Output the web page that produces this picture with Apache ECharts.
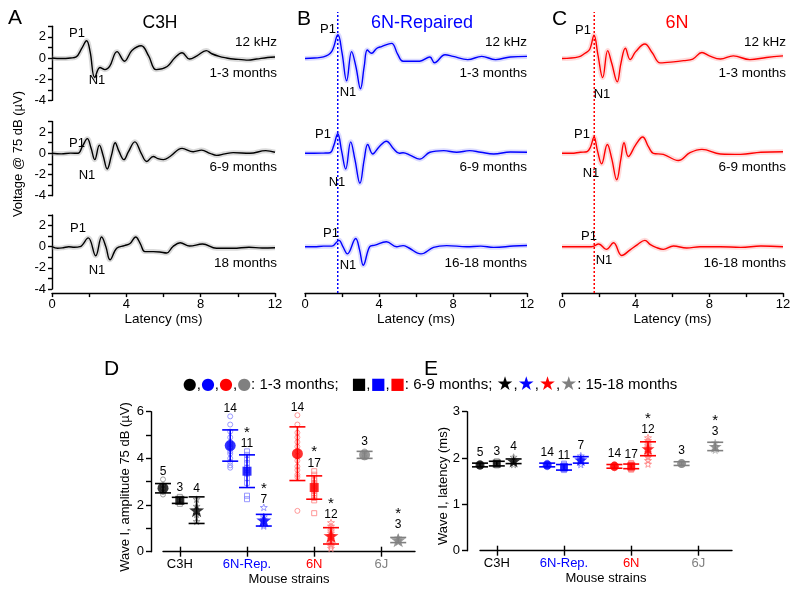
<!DOCTYPE html>
<html><head><meta charset="utf-8">
<script src="https://cdn.jsdelivr.net/npm/echarts@6/dist/echarts.min.js"></script>
<style>html,body{margin:0;padding:0;background:#fff}#c{width:800px;height:590px}</style>
</head><body><div id="c"></div>
<script>
// ================= DATA =================
// Waveforms [latency ms, voltage uV]
const c3h_1_3 = [[0,0],[0.5,-0.05],[1.0,0.0],[1.3,0.1],[1.6,0.9],[1.86,1.63],[2.05,0.6],[2.3,-1.85],[2.58,-0.9],[2.85,-1.1],[3.1,-0.8],[3.5,0.6],[3.9,-0.3],[4.3,0.7],[4.8,1.15],[5.2,0.2],[5.6,-1.1],[6.2,-0.8],[6.6,0.0],[7.0,0.5],[7.4,-0.1],[7.8,0.2],[8.3,0.7],[8.6,0.4],[9.0,0.15],[9.4,0.0],[9.75,-0.1],[10.2,-0.15],[10.55,-0.2],[11.0,-0.1],[11.6,0.05],[12,0.1]];
const c3h_6_9 = [[0,0],[0.5,-0.05],[1.0,0.02],[1.4,0.0],[1.65,0.7],[1.9,1.38],[2.1,0.5],[2.3,-0.6],[2.55,0.77],[2.75,-0.2],[2.97,-1.48],[3.2,-0.2],[3.4,1.0],[3.6,0.2],[3.87,-0.6],[4.1,0.1],[4.46,1.08],[4.8,0.0],[5.1,-0.77],[5.45,-0.3],[5.7,-0.5],[6.0,-0.6],[6.35,-0.3],[7.0,0.46],[7.6,0.15],[8.05,0.3],[8.5,0.0],[8.85,-0.2],[9.3,-0.05],[9.75,0.06],[10.65,0.0],[11.5,0.25],[12,0.1]];
const c3h_18 = [[0,0],[0.3,-0.15],[0.6,-0.1],[0.9,0.0],[1.2,-0.05],[1.5,0.0],[1.95,0.83],[2.35,-0.86],[2.67,0.92],[2.9,0.0],[3.12,-1.23],[3.48,-0.15],[3.9,0.1],[4.2,0.3],[4.5,0.92],[4.75,0.3],[5.0,-0.46],[5.45,-0.46],[5.8,-0.5],[6.17,-0.6],[6.5,0.0],[6.9,0.37],[7.4,0.06],[8.1,0.25],[8.85,-0.15],[9.75,-0.15],[10.6,-0.05],[11.3,-0.12],[12,-0.1]];
const rep_1_3 = [[0,-0.05],[0.5,0.0],[1.0,0.1],[1.44,0.6],[1.78,2.2],[2.0,0.5],[2.25,-2.15],[2.52,0.6],[2.75,-0.8],[3.0,-2.9],[3.2,-0.8],[3.37,0.75],[3.6,0.45],[3.87,0.9],[4.14,1.08],[4.68,1.38],[5.0,0.4],[5.3,-0.3],[6.2,-0.3],[6.75,0.1],[7.0,-0.45],[7.57,0.3],[8.0,0.15],[8.8,-0.15],[9.55,0.15],[10.3,-0.15],[11.1,0.1],[12,0.15]];
const rep_6_9 = [[0,0],[0.5,0.0],[1.0,0.02],[1.35,0.05],[1.55,0.7],[1.77,1.85],[1.98,0.2],[2.2,-1.48],[2.47,1.08],[2.7,-0.6],[2.97,-2.83],[3.2,-0.6],[3.39,0.83],[3.66,-0.06],[4.0,0.6],[4.4,1.14],[4.8,0.4],[5.1,0.0],[5.3,0.05],[5.7,-0.2],[6.2,-0.55],[6.75,0.1],[7.5,0.25],[8.2,0.1],[8.9,0.25],[9.5,0.1],[10.2,-0.06],[11.1,0.12],[12,0.1]];
const rep_16_18 = [[0,0],[0.5,0.0],[1.0,0.05],[1.45,0.05],[1.84,0.6],[2.05,0.0],[2.29,-0.68],[2.74,0.77],[2.95,-0.3],[3.15,-1.75],[3.5,0.0],[3.78,0.15],[4.4,0.46],[4.95,0.0],[5.3,0.1],[5.6,-0.1],[6.27,-0.68],[6.95,-0.06],[7.66,0.1],[8.74,0.0],[9.5,0.05],[10.2,-0.06],[11.26,0.06],[12,0.12]];
const n6_1_3 = [[0,-0.05],[0.9,0.1],[1.25,0.45],[1.5,0.8],[1.74,2.15],[1.95,0.3],[2.21,-1.85],[2.48,0.7],[2.7,-0.5],[3.0,-2.25],[3.2,-0.5],[3.44,0.92],[3.7,-0.15],[4.0,0.6],[4.5,1.32],[4.9,0.5],[5.33,-0.46],[6.05,-0.37],[6.6,-0.25],[7.1,-0.1],[7.6,0.52],[8.0,0.2],[8.6,-0.1],[9.3,0.2],[10.2,-0.15],[11.1,0.05],[12,0.2]];
const n6_6_9 = [[0,0],[0.5,0.0],[1.0,0.1],[1.35,0.15],[1.55,0.6],[1.74,1.54],[1.93,0.2],[2.15,-1.0],[2.46,0.83],[2.7,-0.5],[2.97,-2.5],[3.2,-0.5],[3.37,1.0],[3.6,-0.3],[4.0,0.8],[4.38,1.54],[4.7,0.6],[4.96,0.0],[5.5,-0.1],[6.32,-0.68],[6.95,0.06],[7.6,0.37],[8.6,-0.06],[9.7,-0.1],[10.8,0.1],[12,0.15]];
const n6_16_18 = [[0,0],[0.5,0.0],[1.0,0.0],[1.6,0.0],[2.0,0.25],[2.4,-0.25],[2.8,0.37],[3.24,-0.83],[3.7,-0.3],[4.1,0.2],[4.5,0.6],[4.8,0.2],[5.1,-0.06],[5.5,-0.25],[6.05,0.06],[6.77,-0.12],[7.5,0.0],[8.6,0.0],[9.7,-0.06],[10.8,0.06],[12,0.0]];
const p1LatencyRep = 1.77;   // dotted reference line, panel B
const p1Latency6N = 1.75;    // dotted reference line, panel C
const ageLabelsC3H = ['1-3 months','6-9 months','18 months'];
const ageLabels6N = ['1-3 months','6-9 months','16-18 months'];

// Summary panels: strains and age groups
const strainNames = ['C3H','6N-Rep.','6N','6J'];
// amplitude (uV): mean, SD per strain
const ampMean_1_3 = [2.72, 4.55, 4.2, 4.15];
const ampSD_1_3 = [0.2, 0.67, 1.15, 0.15];
const ampMean_6_9 = [2.2, 3.45, 2.75, null];
const ampSD_6_9 = [0.13, 0.7, 0.5, null];
const ampMean_15_18 = [1.78, 1.35, 0.68, 0.5];
const ampSD_15_18 = [0.57, 0.25, 0.35, 0.11];
const ampInd_1_3 = [[3.1,2.85,2.7,2.55,2.45],[5.8,5.45,5.15,4.9,4.7,4.6,4.5,4.45,4.3,4.2,4.0,3.85,3.7,3.6],[5.85,5.45,5.1,4.9,4.7,4.5,4.3,4.1,3.9,3.65,3.5,3.3,3.2,1.75],[4.3,4.15,4.05]];
const ampInd_6_9 = [[2.35,2.2,2.05],[4.3,4.15,3.95,3.8,3.6,3.5,3.35,3.15,2.95,2.4,2.25],[3.45,3.3,3.15,3.05,2.95,2.9,2.85,2.8,2.75,2.7,2.65,2.6,2.5,2.4,2.3,2.2,1.65],null];
const ampInd_15_18 = [[2.25,1.95,1.6,1.3],[1.9,1.5,1.4,1.3,1.25,1.15,1.1],[1.25,1.1,1.0,0.9,0.8,0.7,0.65,0.55,0.45,0.35,0.25,0.15],[0.6,0.5,0.42]];
const ampSig_1_3 = [false,false,false,false];
const ampSig_6_9 = [false,true,true,null];
const ampSig_15_18 = [false,true,true,true];
// latency (ms)
const latMean_1_3 = [1.85, 1.85, 1.82, 1.88];
const latSD_1_3 = [0.04, 0.04, 0.04, 0.04];
const latMean_6_9 = [1.88, 1.8, 1.82, null];
const latSD_6_9 = [0.05, 0.06, 0.05, null];
const latMean_15_18 = [1.93, 1.96, 2.2, 2.25];
const latSD_15_18 = [0.05, 0.07, 0.15, 0.09];
const latInd_1_3 = [[1.89,1.87,1.85,1.83,1.81],[1.9,1.89,1.88,1.87,1.86,1.86,1.85,1.85,1.84,1.83,1.82,1.82,1.81,1.8],[1.87,1.86,1.85,1.84,1.83,1.83,1.82,1.82,1.81,1.8,1.8,1.79,1.78,1.78],[1.91,1.88,1.85]];
const latInd_6_9 = [[1.93,1.88,1.84],[1.88,1.86,1.84,1.82,1.81,1.8,1.79,1.78,1.77,1.76,1.74],[1.89,1.88,1.86,1.85,1.84,1.83,1.83,1.82,1.82,1.81,1.8,1.8,1.79,1.78,1.77,1.76,1.75],null];
const latInd_15_18 = [[2.02,1.95,1.9,1.86],[2.05,2.0,1.97,1.95,1.93,1.9,1.86],[2.44,2.38,2.33,2.28,2.24,2.2,2.16,2.12,2.08,2.02,1.95,1.87],[2.33,2.25,2.17]];
const latSig_1_3 = [false,false,false,false];
const latSig_6_9 = [false,false,false,null];
const latSig_15_18 = [false,false,true,true];
const nAnimals_1_3 = [5,14,14,3];
const nAnimals_6_9 = [3,11,17,null];
const nAnimals_15_18 = [4,7,12,3];

// ================= CHART =================
const FONT = '"Liberation Sans", Arial, Helvetica, sans-serif';
const chart = echarts.init(document.getElementById('c'), null, {renderer:'canvas', width:800, height:590});
const grids=[], xAxes=[], yAxes=[], series=[];
const AX = {color:'#000', width:1.4};

const panels = [
  {traces:[c3h_1_3,c3h_6_9,c3h_18], color:'#000000', band:'rgba(150,150,150,0.35)', left:52, width:223, showY:true},
  {traces:[rep_1_3,rep_6_9,rep_16_18], color:'#0000ff', band:'rgba(90,90,255,0.22)', left:305, width:222, showY:false},
  {traces:[n6_1_3,n6_6_9,n6_16_18], color:'#ff0000', band:'rgba(255,90,90,0.22)', left:562, width:221, showY:false}
];
const rowTops=[26.2,121.5,214.9], rowH=74.2;
panels.forEach((p)=>{
  p.traces.forEach((tr,ri)=>{
    const gi = grids.length;
    grids.push({left:p.left, top:rowTops[ri], width:p.width, height:rowH});
    const xi = xAxes.length, yi = yAxes.length;
    const isBottom = ri===2;
    xAxes.push({gridIndex:gi, type:'value', min:0, max:12, interval:2, show:isBottom, offset:4,
      axisLine:{show:true,onZero:false,lineStyle:AX},
      axisTick:{show:true,length:4,lineStyle:AX},
      axisLabel:{color:'#000',fontSize:13,fontFamily:FONT,margin:5, formatter:v=> (v%4===0? String(v):'')},
      splitLine:{show:false},
      name:isBottom?'Latency (ms)':'', nameLocation:'middle', nameGap:18,
      nameTextStyle:{color:'#000',fontSize:13.5,fontFamily:FONT}});
    yAxes.push({gridIndex:gi, type:'value', min:-4, max:3, interval:1, show:p.showY,
      axisLine:{show:true,onZero:false,lineStyle:AX},
      axisTick:{show:true,length:4,lineStyle:AX},
      axisLabel:{color:'#000',fontSize:13,fontFamily:FONT,margin:6, formatter:v=> (v%2===0? String(v):'')},
      splitLine:{show:false}});
    series.push({type:'line', xAxisIndex:xi, yAxisIndex:yi, data:tr, smooth:0.4, symbol:'none', silent:true,
      lineStyle:{color:p.band,width:5}, z:1});
    series.push({type:'line', xAxisIndex:xi, yAxisIndex:yi, data:tr, smooth:0.4, symbol:'none', silent:true,
      lineStyle:{color:p.color,width:1.4}, z:2});
  });
});
// dotted P1 reference lines (full height of panels B and C)
[[305,222,p1LatencyRep,'#0000ff'],[562,221,p1Latency6N,'#ff0000']].forEach(([l,w,lat,col])=>{
  const gi = grids.length;
  grids.push({left:l, top:12, width:w, height:281});
  const xi = xAxes.length, yi = yAxes.length;
  xAxes.push({gridIndex:gi, type:'value', min:0, max:12, show:false});
  yAxes.push({gridIndex:gi, type:'value', min:0, max:1, show:false});
  series.push({type:'line', xAxisIndex:xi, yAxisIndex:yi, data:[[lat,0],[lat,1]], symbol:'none', silent:true,
    lineStyle:{color:col,width:1.5,type:[2,2]}, z:3});
});

// ---- Summary panels D and E ----
const strainColors = ['#000000','#0000ff','#ff0000','#808080'];
const indivColors = ['#8a8a8a','#8080ff','#ff8080','#b0b0b0'];
const ageOffsets = [-0.25, 0, 0.25];
const STAR = 'path://M0,-10 L2.35,-3.24 L9.51,-3.09 L3.8,1.24 L5.88,8.09 L0,4 L-5.88,8.09 L-3.8,1.24 L-9.51,-3.09 L-2.35,-3.24 Z';
const ageSymbols = ['circle','rect',STAR];

function statAxes(left, top, width, height, yMax, yLabelEven, yOffset){
  const gi = grids.length;
  grids.push({left, top, width, height});
  const xi = xAxes.length, yi = yAxes.length;
  const xBase = {gridIndex:gi, type:'value', min:0.75, max:4.5, position:'bottom', splitLine:{show:false}};
  xAxes.push(Object.assign({}, xBase, {
    axisLine:{show:true,onZero:false,lineStyle:AX},
    axisTick:{show:true,length:5,customValues:[1,2,3,4],lineStyle:AX},
    axisLabel:{customValues:[1,2,3,4], margin:6, fontSize:13, fontFamily:FONT,
      formatter:v=>{const i=Math.round(v)-1; return '{s'+i+'|'+strainNames[i]+'}';},
      rich:{s0:{color:strainColors[0],fontSize:13,fontFamily:FONT},s1:{color:strainColors[1],fontSize:13,fontFamily:FONT},
            s2:{color:strainColors[2],fontSize:13,fontFamily:FONT},s3:{color:strainColors[3],fontSize:13,fontFamily:FONT}}},
    name:'Mouse strains', nameLocation:'middle', nameGap:21, nameTextStyle:{color:'#000',fontSize:13,fontFamily:FONT}}));
  xAxes.push(Object.assign({}, xBase, {
    axisLine:{show:false,onZero:false},
    axisTick:{show:true,inside:true,length:5,customValues:[1,2,3,4],lineStyle:AX},
    axisLabel:{show:false}}));
  yAxes.push({gridIndex:gi, type:'value', min:0, max:yMax, interval:1, offset:yOffset,
    axisLine:{show:true,onZero:false,lineStyle:AX},
    axisTick:{show:true,length:5,lineStyle:AX},
    axisLabel:{color:'#000',fontSize:13,fontFamily:FONT,margin:7, formatter:v=> (!yLabelEven || v%2===0 ? String(v) : '')},
    splitLine:{show:false}});
  return {xi, yi};
}

function statSeries(ax, means, sds, inds, ns, sigs, markerSizes, indSizes){
  const {xi, yi} = ax;
  const errData=[], labelItems=[];
  for(let a=0;a<3;a++){
    const meanData=[], indData=[];
    for(let s=0;s<4;s++){
      const m = means[a][s]; if(m==null) continue;
      const x = s+1+ageOffsets[a], sd = sds[a][s];
      errData.push({value:[x,m-sd,m+sd], itemStyle:{color:strainColors[s]}});
      meanData.push({value:[x,m], itemStyle:{color:strainColors[s]}});
      (inds[a][s]||[]).forEach(v=>indData.push({value:[x,v], itemStyle:{color:'rgba(0,0,0,0)', borderColor:indivColors[s], borderWidth:1}}));
      labelItems.push({value:[x,m,sd,Math.max(...(inds[a][s]||[m]))], n:ns[a][s], sig:sigs[a][s], half:markerSizes[a]/2});
    }
    series.push({type:'scatter', xAxisIndex:xi, yAxisIndex:yi, data:indData, symbol:ageSymbols[a], symbolKeepAspect:true,
      symbolSize:indSizes[a], silent:true, z:3});
    series.push({type:'scatter', xAxisIndex:xi, yAxisIndex:yi, data:meanData, symbol:ageSymbols[a], symbolKeepAspect:true,
      symbolSize:markerSizes[a], silent:true, z:5});
  }
  series.push({type:'custom', xAxisIndex:xi, yAxisIndex:yi, data:errData, silent:true, z:4,
    renderItem:(params, api)=>{
      const x=api.value(0), pLo=api.coord([x,api.value(1)]), pHi=api.coord([x,api.value(2)]);
      const w=8, st={stroke:api.visual('color'), lineWidth:1.6};
      return {type:'group', children:[
        {type:'line', shape:{x1:pLo[0],y1:pLo[1],x2:pHi[0],y2:pHi[1]}, style:st},
        {type:'line', shape:{x1:pLo[0]-w,y1:pLo[1],x2:pLo[0]+w,y2:pLo[1]}, style:st},
        {type:'line', shape:{x1:pHi[0]-w,y1:pHi[1],x2:pHi[0]+w,y2:pHi[1]}, style:st}]};
    }});
  series.push({type:'custom', xAxisIndex:xi, yAxisIndex:yi, data:labelItems.map(it=>it.value), silent:true, z:6,
    renderItem:(params, api)=>{
      const it = labelItems[params.dataIndex];
      const [x,m,sd,mx] = it.value;
      const pm = api.coord([x,m]);
      const yTop = Math.min(api.coord([x,m+sd])[1], api.coord([x,mx])[1], pm[1]-it.half);
      const ch = [{type:'text', x:pm[0], y:yTop-8, style:{text:String(it.n), fill:'#000', font:'12px '+FONT, align:'center', verticalAlign:'middle'}}];
      if(it.sig) ch.push({type:'text', x:pm[0], y:yTop-19, style:{text:'*', fill:'#000', font:'15px '+FONT, align:'center', verticalAlign:'middle'}});
      return {type:'group', children:ch};
    }});
}

const axD = statAxes(163, 411.7, 252, 140, 6, true, 12);
statSeries(axD, [ampMean_1_3,ampMean_6_9,ampMean_15_18], [ampSD_1_3,ampSD_6_9,ampSD_15_18],
  [ampInd_1_3,ampInd_6_9,ampInd_15_18], [nAnimals_1_3,nAnimals_6_9,nAnimals_15_18],
  [ampSig_1_3,ampSig_6_9,ampSig_15_18], [11,9,15], [5,5,7]);
const axE = statAxes(480, 411.7, 252, 139, 3, false, 13);
statSeries(axE, [latMean_1_3,latMean_6_9,latMean_15_18], [latSD_1_3,latSD_6_9,latSD_15_18],
  [latInd_1_3,latInd_6_9,latInd_15_18], [nAnimals_1_3,nAnimals_6_9,nAnimals_15_18],
  [latSig_1_3,latSig_6_9,latSig_15_18], [9,8,13], [5,5,7]);

// ---- text annotations ----
function txt(text, x, y, size, color, align, vAlign, rot){
  const o = {type:'text', x, y, silent:true, z:100,
    style:{text, fill:color||'#000', font:size+'px '+FONT, align:align||'center', verticalAlign:vAlign||'middle'}};
  if(rot) o.rotation = rot;
  return o;
}
const g = [];
g.push(txt('A',8,8,21,'#000','left','top'));
g.push(txt('B',297,9,21,'#000','left','top'));
g.push(txt('C',552,9,21,'#000','left','top'));
g.push(txt('D',104,359,21,'#000','left','top'));
g.push(txt('E',424,359,21,'#000','left','top'));
g.push(txt('C3H',160,23,17.5,'#000'));
g.push(txt('6N-Repaired',422,23,18,'#0000ff'));
g.push(txt('6N',677,23,18,'#ff0000'));
const rightEdges = [277,527,786];
const rowLabelY = [73.5,167.5,263];
rightEdges.forEach((r,pi)=>{
  g.push(txt('12 kHz', r, 42.5, 13.5, '#000', 'right'));
  const labs = pi===0 ? ageLabelsC3H : ageLabels6N;
  labs.forEach((l,ri)=> g.push(txt(l, r, rowLabelY[ri], 13.5, '#000', 'right')));
});
const pLabels = [
  [[77,33],[97,80]], [[77,143],[87,175]], [[78,228],[97,270]],
  [[328,29],[348,92]], [[323,134],[337,182]], [[331,233],[348,265]],
  [[583,30],[602,94]], [[582,134],[591,173]], [[589,236],[604,260]]
];
pLabels.forEach(([p,n])=>{ g.push(txt('P1',p[0],p[1],13,'#000')); g.push(txt('N1',n[0],n[1],13,'#000')); });
g.push(txt('Voltage @ 75 dB (µV)', 18, 154, 13, '#000', 'center', 'middle', Math.PI/2));
g.push(txt('Wave I, amplitude 75 dB (µV)', 125, 487, 13, '#000', 'center', 'middle', Math.PI/2));
g.push(txt('Wave I, latency (ms)', 443, 486, 13, '#000', 'center', 'middle', Math.PI/2));
const RG = (c,s)=>({fill:c,fontSize:s,fontFamily:'DejaVu Sans'});
g.push({type:'text', x:430, y:385, silent:true, z:100, style:{
  text:'{k|●},{b|●},{r|●},{g|●}: 1-3 months;   {k|■},{b|■},{r|■}: 6-9 months; {ks|★},{bs|★},{rs|★},{gs|★}: 15-18 months',
  font:'15px '+FONT, fill:'#000', align:'center', verticalAlign:'middle',
  rich:{k:RG('#000000',16), b:RG('#0000ff',16), r:RG('#ff0000',16), g:RG('#808080',16),
        ks:RG('#000000',19), bs:RG('#0000ff',19), rs:RG('#ff0000',19), gs:RG('#808080',19)}}});

chart.setOption({
  animation:false,
  backgroundColor:'#ffffff',
  textStyle:{fontFamily:FONT},
  grid:grids, xAxis:xAxes, yAxis:yAxes, series, graphic:g
});
</script>
</body></html>
